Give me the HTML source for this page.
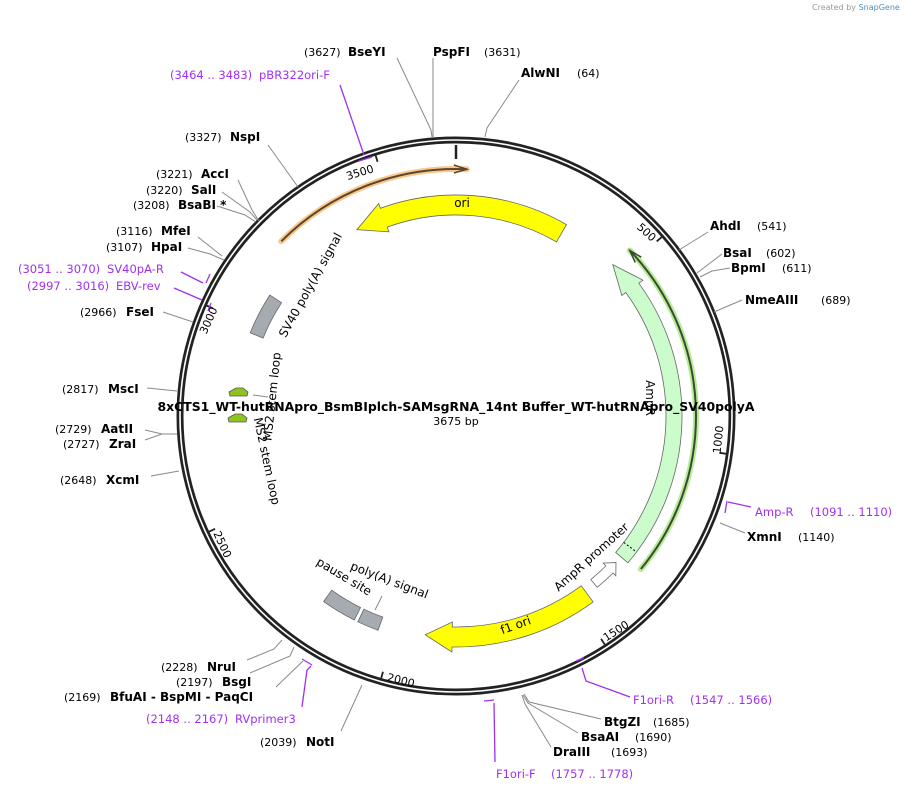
<!DOCTYPE html>
<html><head><meta charset="utf-8"><style>
body{margin:0;background:#fff;}
svg{display:block;font-family:"DejaVu Sans","Liberation Sans",sans-serif;}
.n{font-size:11px;fill:#000;}
.b{font-size:12px;font-weight:bold;fill:#000;}
.p{font-size:11.5px;fill:#a030f0;}
.l{stroke:#8a8a8a;stroke-width:1;fill:none;}
.pl{stroke:#a030f0;stroke-width:1.3;fill:none;}
.f{font-size:12px;fill:#000;}
</style></head><body>
<svg id="s" width="910" height="792" viewBox="0 0 910 792" xmlns="http://www.w3.org/2000/svg">
<text x="812" y="10" style="font-size:8px;fill:#999">Created by <tspan fill="#4a90c0">SnapGene</tspan></text>
<g id="feat"></g>
<circle cx="456" cy="416" r="276" fill="none" stroke="#222" stroke-width="7"/>
<circle cx="456" cy="416" r="276" fill="none" stroke="#fff" stroke-width="1.6"/>
<g id="ticks"></g>
<polyline class="l" points="397,58 431,130 432,137"/>
<polyline class="l" points="433,58 433,137"/>
<polyline class="l" points="519,80 487,128 485,137"/>
<polyline class="l" points="268,145 298,187"/>
<polyline class="l" points="238,180 252,210 259,221"/>
<polyline class="l" points="222,192 250,212 257,220"/>
<polyline class="l" points="217,206 245,215 256,222"/>
<polyline class="l" points="198,237 222,256"/>
<polyline class="l" points="188,248 210,254 224,260"/>
<polyline class="l" points="163,312 193,322"/>
<polyline class="l" points="147,388 177,391"/>
<polyline class="l" points="145,430 162,434 177,434"/>
<polyline class="l" points="145,440 162,434"/>
<polyline class="l" points="151,476 179,471"/>
<polyline class="l" points="247,660 274,649 282,640"/>
<polyline class="l" points="250,673 290,656 294,647"/>
<polyline class="l" points="276,687 303,661"/>
<polyline class="l" points="341,731 362,685"/>
<polyline class="l" points="708,232 679,250"/>
<polyline class="l" points="722,254 697,273"/>
<polyline class="l" points="730,268 712,271 700,277"/>
<polyline class="l" points="742,300 714,312"/>
<polyline class="l" points="745,533 720,523"/>
<polyline class="l" points="601,719 529,702 524,694"/>
<polyline class="l" points="578,733 528,703 523,695"/>
<polyline class="l" points="551,747 525,704 522,695"/>
<polyline class="pl" points="340,85 364,155"/><line class="pl" x1="359" y1="161" x2="372" y2="157" stroke-width="2"/>
<polyline class="pl" points="181,272 203,283"/><line class="pl" x1="210" y1="274" x2="206" y2="283" stroke-width="2"/>
<polyline class="pl" points="174,288 202,300"/><line class="pl" x1="211" y1="303" x2="208" y2="311" stroke-width="2"/>
<polyline class="pl" points="302,707 307,670 311,666"/><line class="pl" x1="302" y1="659" x2="312" y2="665" stroke-width="2"/>
<polyline class="pl" points="728,502 751,507"/><line class="pl" x1="727" y1="501" x2="725" y2="513" stroke-width="2"/>
<polyline class="pl" points="582,668 586,681 630,697"/><line class="pl" x1="576" y1="661" x2="584" y2="658" stroke-width="2"/>
<polyline class="pl" points="494,703 495,762"/><line class="pl" x1="484" y1="701" x2="494" y2="700" stroke-width="2"/>
<text class="n" x="304" y="56">(3627)</text><text class="b" x="348" y="56">BseYI</text>
<text class="b" x="433" y="56">PspFI</text><text class="n" x="484" y="56">(3631)</text>
<text class="b" x="521" y="77">AlwNI</text><text class="n" x="577" y="77">(64)</text>
<text class="p" x="170" y="79">(3464 .. 3483)</text><text class="p" x="259" y="79">pBR322ori-F</text>
<text class="n" x="185" y="141">(3327)</text><text class="b" x="230" y="141">NspI</text>
<text class="n" x="156" y="178">(3221)</text><text class="b" x="201" y="178">AccI</text>
<text class="n" x="146" y="194">(3220)</text><text class="b" x="191" y="194">SalI</text>
<text class="n" x="133" y="209">(3208)</text><text class="b" x="178" y="209">BsaBI *</text>
<text class="n" x="116" y="235">(3116)</text><text class="b" x="161" y="235">MfeI</text>
<text class="n" x="106" y="251">(3107)</text><text class="b" x="151" y="251">HpaI</text>
<text class="p" x="18" y="273">(3051 .. 3070)</text><text class="p" x="107" y="273">SV40pA-R</text>
<text class="p" x="27" y="290">(2997 .. 3016)</text><text class="p" x="116" y="290">EBV-rev</text>
<text class="n" x="80" y="316">(2966)</text><text class="b" x="126" y="316">FseI</text>
<text class="n" x="62" y="393">(2817)</text><text class="b" x="108" y="393">MscI</text>
<text class="n" x="55" y="433">(2729)</text><text class="b" x="101" y="433">AatII</text>
<text class="n" x="63" y="448">(2727)</text><text class="b" x="109" y="448">ZraI</text>
<text class="n" x="60" y="484">(2648)</text><text class="b" x="106" y="484">XcmI</text>
<text class="n" x="161" y="671">(2228)</text><text class="b" x="207" y="671">NruI</text>
<text class="n" x="176" y="686">(2197)</text><text class="b" x="222" y="686">BsgI</text>
<text class="n" x="64" y="701">(2169)</text><text class="b" x="110" y="701">BfuAI  - BspMI  - PaqCI</text>
<text class="p" x="146" y="723">(2148 .. 2167)</text><text class="p" x="235" y="723">RVprimer3</text>
<text class="n" x="260" y="746">(2039)</text><text class="b" x="306" y="746">NotI</text>
<text class="b" x="710" y="230">AhdI</text><text class="n" x="757" y="230">(541)</text>
<text class="b" x="723" y="257">BsaI</text><text class="n" x="766" y="257">(602)</text>
<text class="b" x="731" y="272">BpmI</text><text class="n" x="782" y="272">(611)</text>
<text class="b" x="745" y="304">NmeAIII</text><text class="n" x="821" y="304">(689)</text>
<text class="p" x="755" y="516">Amp-R</text><text class="p" x="810" y="516">(1091 .. 1110)</text>
<text class="b" x="747" y="541">XmnI</text><text class="n" x="798" y="541">(1140)</text>
<text class="p" x="633" y="704">F1ori-R</text><text class="p" x="690" y="704">(1547 .. 1566)</text>
<text class="b" x="604" y="726">BtgZI</text><text class="n" x="653" y="726">(1685)</text>
<text class="b" x="581" y="741">BsaAI</text><text class="n" x="635" y="741">(1690)</text>
<text class="b" x="553" y="756">DraIII</text><text class="n" x="611" y="756">(1693)</text>
<text class="p" x="496" y="778">F1ori-F</text><text class="p" x="551" y="778">(1757 .. 1778)</text>
<g style="font-size:11px">
<text transform="translate(361,176) rotate(-17)" text-anchor="middle">3500</text>
<text transform="translate(644,235) rotate(42)" text-anchor="middle">500</text>
<text transform="translate(722,440) rotate(-84)" text-anchor="middle">1000</text>
<text transform="translate(618,634) rotate(-33)" text-anchor="middle">1500</text>
<text transform="translate(400,684) rotate(14)" text-anchor="middle">2000</text>
<text transform="translate(219,546) rotate(65)" text-anchor="middle">2500</text>
<text transform="translate(212,322) rotate(-66)" text-anchor="middle">3000</text>
</g>
<text class="f" x="462" y="207" text-anchor="middle">ori</text>
<text class="f" transform="translate(646,398) rotate(90)" text-anchor="middle">AmpR</text>
<text class="f" transform="translate(594,560) rotate(-42)" text-anchor="middle">AmpR promoter</text>
<text class="f" transform="translate(517,629) rotate(-20)" text-anchor="middle">f1 ori</text>
<text class="f" transform="translate(314,287) rotate(-61)" text-anchor="middle">SV40 poly(A) signal</text>
<text class="f" transform="translate(276,397) rotate(-84)" text-anchor="middle">MS2 stem loop</text>
<text class="f" transform="translate(263,462) rotate(78)" text-anchor="middle">MS2 stem loop</text>
<text class="f" transform="translate(342,580) rotate(31)" text-anchor="middle">pause site</text>
<text class="f" transform="translate(388,584) rotate(21)" text-anchor="middle">poly(A) signal</text>
<polyline class="l" points="375,610 382,596"/>
<polyline class="l" points="253,395 268,397"/>
<polygon points="229,392 236,388 243,388 248,392 247,396 230,396" fill="#8fc31f" stroke="#555" stroke-width="0.8"/>
<polygon points="228,418 235,414 242,414 247,418 246,422 229,422" fill="#8fc31f" stroke="#555" stroke-width="0.8"/>
<text x="456" y="411" text-anchor="middle" textLength="597" lengthAdjust="spacingAndGlyphs" style="font-size:12.5px;font-weight:bold">8xCTS1_WT-hutRNApro_BsmBIplch-SAMsgRNA_14nt Buffer_WT-hutRNApro_SV40polyA</text>
<text x="456" y="425" text-anchor="middle" style="font-size:11px">3675 bp</text>
</svg>
<script>
var cx=456,cy=416,NS="http://www.w3.org/2000/svg";
function P(r,t){t=t*Math.PI/180;return [(cx+r*Math.sin(t)).toFixed(1),(cy-r*Math.cos(t)).toFixed(1)];}
function arc(r,a,b){var p=P(r,b),l=Math.abs(b-a)>180?1:0,s=b>a?1:0;return "A"+r+" "+r+" 0 "+l+" "+s+" "+p[0]+" "+p[1];}
function add(g,tag,at){var e=document.createElementNS(NS,tag);for(var k in at)e.setAttribute(k,at[k]);document.getElementById(g).appendChild(e);return e;}
function band(r1,r2,a,b,fill){var p=P(r2,a),q=P(r1,b);add("feat","path",{d:"M"+p.join(" ")+arc(r2,a,b)+"L"+q.join(" ")+arc(r1,b,a)+"Z",fill:fill,stroke:"#666","stroke-width":0.8});}
function arrow(r1,r2,tail,base,tip,ext,fill){var m=(r1+r2)/2,a=P(r2,tail),b=P(r2+ext,base),c=P(m,tip),d=P(r1-ext,base),e=P(r1,base),f=P(r1,tail);
 add("feat","path",{d:"M"+a.join(" ")+arc(r2,tail,base)+"L"+b.join(" ")+"L"+c.join(" ")+"L"+d.join(" ")+"L"+e.join(" ")+arc(r1,base,tail)+"Z",fill:fill,stroke:"#666","stroke-width":0.8});}
function line(r,a,b,glow,col){var p=P(r,a);var d="M"+p.join(" ")+arc(r,a,b);
 add("feat","path",{d:d,fill:"none",stroke:glow,"stroke-width":6,"stroke-linecap":"round"});
 add("feat","path",{d:d,fill:"none",stroke:col,"stroke-width":2});
 var dir=b>a?-1:1,t=P(r,b),u=P(r+4,b+dir*3),v=P(r-4,b+dir*3);
 add("feat","path",{d:"M"+u.join(" ")+"L"+t.join(" ")+"L"+v.join(" "),fill:"none",stroke:col,"stroke-width":1.5});}
arrow(201,221,30,-20,-28,5,"#ffff00");
line(247,-45,2.5,"#f9c98a","#5a4630");
arrow(210,226,130.5,54,46,5,"#ccfccc");
line(240,129.6,46.4,"#b5eb94","#3a4a30");
arrow(212,222,140.5,135,132.5,4,"#ffffff");
arrow(211,231,143.6,181,188,5,"#ffff00");
band(208,222,292,303,"#a6abb2");
band(214,228,206.5,215.5,"#a6abb2");
band(214,228,200,205.5,"#a6abb2");
var a=P(210,127),b=P(226,127);add("feat","line",{x1:a[0],y1:a[1],x2:b[0],y2:b[1],stroke:"#000","stroke-dasharray":"2,2"});
[500,1000,1500,2000,2500,3000,3500].forEach(function(n){var t=n/3675*360,p=P(266,t),q=P(273,t);add("ticks","line",{x1:p[0],y1:p[1],x2:q[0],y2:q[1],stroke:"#222","stroke-width":1.8});});
add("ticks","line",{x1:456,y1:145,x2:456,y2:159,stroke:"#222","stroke-width":2.5});
</script>
</body></html>
